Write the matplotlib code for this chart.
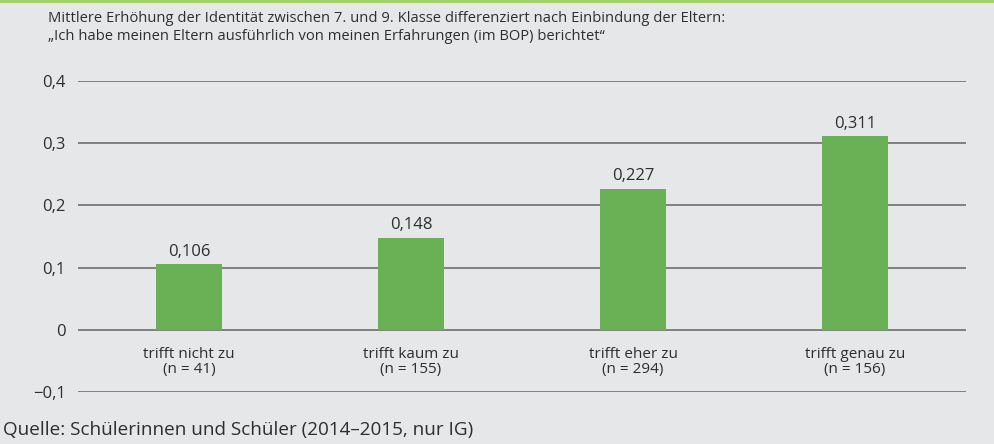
import matplotlib.pyplot as plt
from matplotlib import font_manager

# Daten
kategorien = ['trifft nicht zu\n(n = 41)', 'trifft kaum zu\n(n = 155)',
              'trifft eher zu\n(n = 294)', 'trifft genau zu\n(n = 156)']
werte = [0.106, 0.148, 0.227, 0.311]
y_ticks = [-0.1, 0, 0.1, 0.2, 0.3, 0.4]

namen = {f.name for f in font_manager.fontManager.ttflist}
schrift = 'Liberation Sans Narrow' if 'Liberation Sans Narrow' in namen else 'Open Sans'
plt.rcParams['font.family'] = [schrift, 'DejaVu Sans']

bg = '#e6e7e8'
grau = '#2e2e2e'
gruen = '#6ab155'
linie = '#808080'

fig = plt.figure(figsize=(9.94, 4.44), dpi=100, facecolor=bg)
ax = fig.add_axes([78 / 994, 1 - 392 / 444, 888 / 994, 311 / 444])
ax.set_facecolor(bg)

for t in y_ticks:
    ax.axhline(t, color=linie, lw=1.4, zorder=1)

x = range(len(werte))
ax.bar(x, werte, width=0.3, color=gruen, zorder=2)
for xi, v in zip(x, werte):
    ax.text(xi, v + 0.007, f'{v:.3f}'.replace('.', ','), ha='center', va='bottom',
            fontsize=12, color=grau)
for xi, k in zip(x, kategorien):
    ax.text(xi, -0.027, k, ha='center', va='top', fontsize=11, color=grau,
            linespacing=1.08)

ax.set_xlim(-0.5, 3.5)
ax.set_ylim(-0.1, 0.4)
ax.set_xticks([])
ax.set_yticks(y_ticks)
ax.set_yticklabels([f'{t:.1f}'.replace('.', ',').replace('-', '\u2212') if t != 0 else '0'
                    for t in y_ticks], fontsize=12, color=grau)
ax.tick_params(axis='y', length=0, pad=9)
for s in ax.spines.values():
    s.set_visible(False)

# grüne Linie oben
fig.add_artist(plt.Line2D([0, 1], [1 - 1 / 444, 1 - 1 / 444], color='#a5cf6a', lw=3))

fig.text(48 / 994, 1 - 18 / 444,
         'Mittlere Erhöhung der Identität zwischen 7. und 9. Klasse differenziert nach Einbindung der Eltern:',
         fontsize=10.6, color=grau, va='center')
fig.text(48 / 994, 1 - 37 / 444,
         '\u201eIch habe meinen Eltern ausführlich von meinen Erfahrungen (im BOP) berichtet\u201c',
         fontsize=10.6, color=grau, va='center')
fig.text(3 / 994, 1 - 430 / 444, 'Quelle: Schülerinnen und Schüler (2014\u20132015, nur IG)',
         fontsize=13.6, color=grau, va='center')

fig.savefig('out.png', dpi=100, facecolor=bg)
